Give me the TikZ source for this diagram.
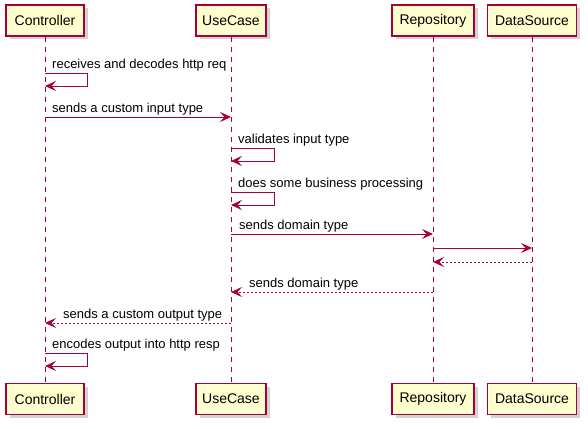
\documentclass[tikz,border=0pt]{standalone}
\usepackage{fontspec}
\setmainfont{Liberation Sans}
\usetikzlibrary{arrows.meta,shadows,calc}
\definecolor{puml}{HTML}{A80036}
\definecolor{pfill}{HTML}{FEFECE}
\begin{document}
\begin{tikzpicture}[x=1pt,y=-1pt,
  part/.style={draw=puml, fill=pfill, line width=1.4pt, minimum height=31pt, inner sep=0pt,
    font=\fontsize{14}{16}\selectfont,
    drop shadow={shadow xshift=3.5pt, shadow yshift=-3.5pt, opacity=0.25, fill=black!70}},
  life/.style={draw=puml, line width=0.8pt, dash pattern=on 5pt off 5pt},
  msg/.style={draw=puml, line width=0.9pt, -{Stealth[length=11pt,width=10pt,inset=4.5pt]}},
  ret/.style={msg, dash pattern=on 2pt off 2pt},
  lbl/.style={anchor=base west, inner sep=0pt, font=\fontsize{13}{15}\selectfont}]
\fill[white] (0,0) rectangle (588,428);
\useasboundingbox (0,0) rectangle (588,428);
% participants
\node[part, minimum width=78pt] (ct) at (45,20.5) {Controller};
\node[part, minimum width=70pt] (uc) at (231,20.5) {UseCase};
\node[part, minimum width=82pt] (rp) at (433,20.5) {Repository};
\node[part, minimum width=89pt] (ds) at (532,20.5) {DataSource};
\node[part, minimum width=78pt] (ctb) at (45,399) {Controller};
\node[part, minimum width=70pt] (ucb) at (231,399) {UseCase};
\node[part, minimum width=82pt] (rpb) at (433,399) {Repository};
\node[part, minimum width=89pt] (dsb) at (532,399) {DataSource};
% lifelines
\draw[life] (ct.south) -- (ctb.north);
\draw[life] (uc.south) -- (ucb.north);
\draw[life] (rp.south) -- (rpb.north);
\draw[life] (ds.south) -- (dsb.north);
% messages
\draw[msg] (ct.south |- 0,73) -- ++(42,0) -- ++(0,13) -- (ct.south |- 0,86);
\node[lbl] (l1) at (52,68) {receives and decodes http req};
\draw[msg] (ct.south |- 0,117) -- (uc.south |- 0,117);
\node[lbl] (l2) at (52,112) {sends a custom input type};
\draw[msg] (uc.south |- 0,148) -- ++(43,0) -- ++(0,13) -- (uc.south |- 0,161);
\node[lbl] (l3) at (238,143) {validates input type};
\draw[msg] (uc.south |- 0,192) -- ++(43,0) -- ++(0,13) -- (uc.south |- 0,205);
\node[lbl] (l4) at (238,187) {does some business processing};
\draw[msg] (uc.south |- 0,234) -- (rp.south |- 0,234);
\node[lbl] (l5) at (239,229) {sends domain type};
\draw[msg] (rp.south |- 0,248) -- (ds.south |- 0,248);
\draw[ret] (ds.south |- 0,262) -- (rp.south |- 0,262);
\draw[ret] (rp.south |- 0,292) -- (uc.south |- 0,292);
\node[lbl] (l8) at (249,287) {sends domain type};
\draw[ret] (uc.south |- 0,323) -- (ct.south |- 0,323);
\node[lbl] (l9) at (63,318) {sends a custom output type};
\draw[msg] (ct.south |- 0,353) -- ++(42,0) -- ++(0,13) -- (ct.south |- 0,366);
\node[lbl] (l10) at (52,348) {encodes output into http resp};
\end{tikzpicture}
\end{document}
